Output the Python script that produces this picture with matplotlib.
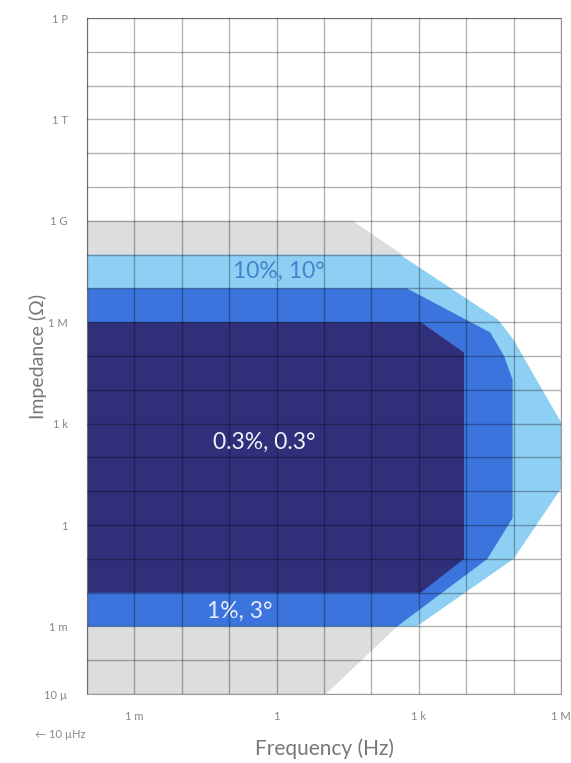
import matplotlib
matplotlib.use('Agg')
import matplotlib.pyplot as plt

plt.rcParams['font.family'] = ['Lato', 'DejaVu Sans']

# outline of each accuracy zone, frequency in Hz and impedance in ohms
gray_f = [1e-4, 40, 450, 350, 11, 1e-4]
gray_z = [1e9, 1e9, 1e8, 1e-3, 1e-5, 1e-5]

light_f = [1e-4, 400, 4.7e4, 1e5, 1e6, 1e6, 1e5, 900, 1e-4]
light_z = [1e8, 1e8, 1.2e6, 3e5, 1.1e3, 12, 0.1, 1e-3, 1e-3]

mid_f = [1e-4, 560, 3.2e4, 6.3e4, 9.5e4, 9.5e4, 2.8e4, 350, 1e-4]
mid_z = [1e7, 1e7, 5e5, 1e5, 2e4, 1.6, 0.1, 1e-3, 1e-3]

dark_f = [1e-4, 1.1e3, 9e3, 9e3, 1.1e3, 1e-4]
dark_z = [1e6, 1e6, 1.26e5, 0.1, 0.01, 0.01]

zones = [
    (gray_f, gray_z, '#dcdedd'),
    (light_f, light_z, '#8ecff4'),
    (mid_f, mid_z, '#3b74dc'),
    (dark_f, dark_z, '#2f3079'),
]

zone_labels = ['10%, 10°', '0.3%, 0.3°', '1%, 3°']
label_f = [1.1, 0.54, 0.17]
label_z = [3.2e7, 2.8e2, 2.8e-3]
label_colors = ['#4482cf', '#f2f2fa', '#e6ecfb']

x_ticks = [10.0 ** k for k in range(-4, 7)]
x_labels = ['', '1 m', '', '', '1', '', '', '1 k', '', '', '1 M']
y_ticks = [10.0 ** k for k in range(-5, 16)]
y_labels = ['10 µ', '', '1 m', '', '', '1', '', '', '1 k', '', '', '1 M',
            '', '', '1 G', '', '', '1 T', '', '', '1 P']

fig = plt.figure(figsize=(5.71, 7.63), dpi=100)
ax = fig.add_axes([0.1524, 0.0904, 0.8301, 0.886])
ax.set_xscale('log')
ax.set_yscale('log')
ax.set_xlim(1e-4, 1e6)
ax.set_ylim(1e-5, 1e15)

for f, z, c in zones:
    ax.fill(f, z, color=c, lw=0, zorder=1)

for txt, f, z, c in zip(zone_labels, label_f, label_z, label_colors):
    ax.text(f, z, txt, color=c, fontsize=16.5, ha='center', va='center', zorder=3)

ax.set_xticks(x_ticks)
ax.set_xticklabels(x_labels)
ax.set_yticks(y_ticks)
ax.set_yticklabels(y_labels)
ax.minorticks_off()
ax.tick_params(length=0, colors='#858585', labelsize=8, pad=12)
ax.tick_params(axis='y', pad=14)
ax.grid(True, color='black', alpha=0.3, lw=1, zorder=2)
ax.set_axisbelow(False)
for s in ax.spines.values():
    s.set_color('#9a9a9a')

ax.set_xlabel('Frequency (Hz)', color='#777777', fontsize=15, labelpad=12)
ax.set_ylabel('Impedance (Ω)', color='#777777', fontsize=14, labelpad=-2)
fig.text(0.105, 0.038, '← 10 µHz', color='#8a8a8a', fontsize=8, ha='center', va='center')

fig.savefig('out.png', dpi=100)
